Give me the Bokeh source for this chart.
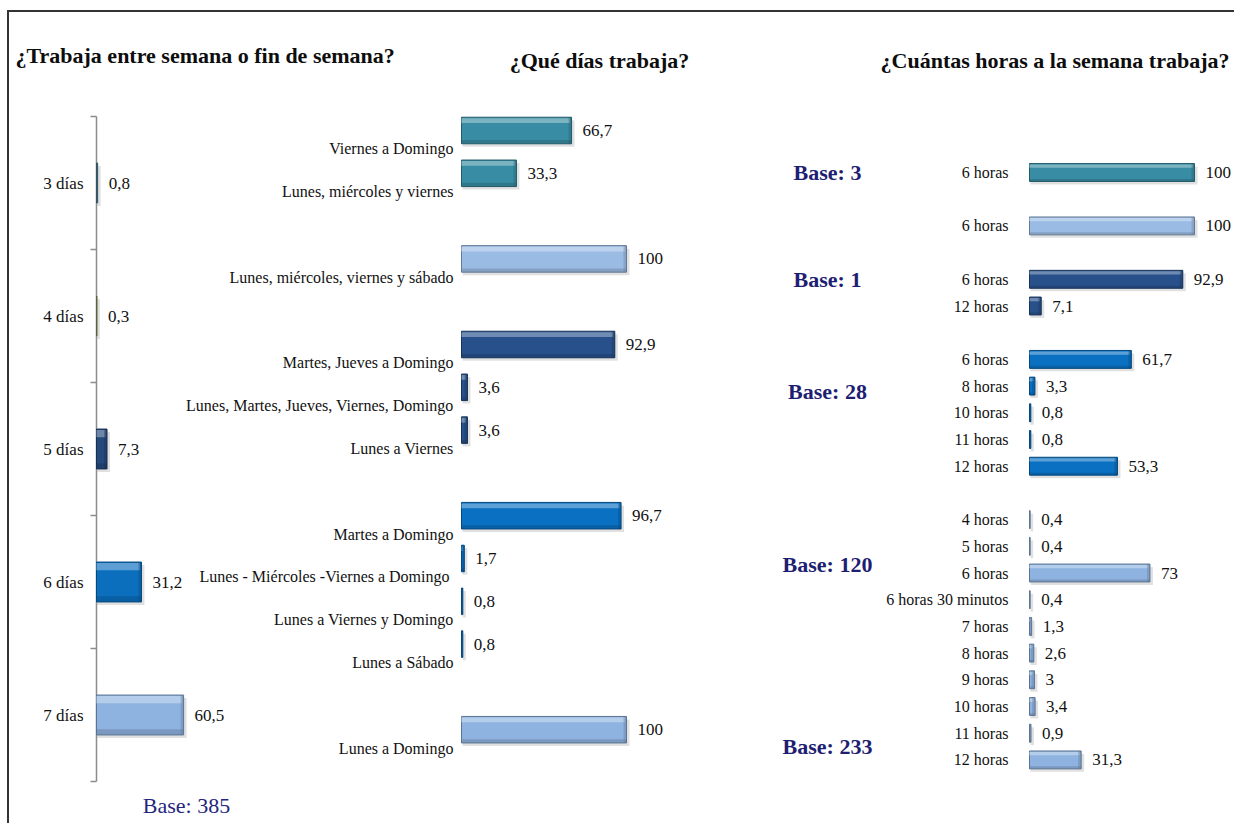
import numpy as np
from bokeh.plotting import figure
from bokeh.models import Range1d
from bokeh.core.properties import value
from bokeh.embed import file_html
from bokeh.resources import INLINE

# ---------------- data ----------------
title_left = "¿Trabaja entre semana o fin de semana?"
title_mid = "¿Qué días trabaja?"
title_right = "¿Cuántas horas a la semana trabaja?"

days_labels = ["3 días", "4 días", "5 días", "6 días", "7 días"]
days_values = [0.8, 0.3, 7.3, 31.2, 60.5]
base_total = 385

which_days_labels = [
    "Viernes a Domingo",
    "Lunes, miércoles y viernes",
    "Lunes, miércoles, viernes y sábado",
    "Martes, Jueves a Domingo",
    "Lunes, Martes, Jueves, Viernes, Domingo",
    "Lunes a Viernes",
    "Martes a Domingo",
    "Lunes - Miércoles  -Viernes a Domingo",
    "Lunes a Viernes y Domingo",
    "Lunes a Sábado",
    "Lunes a Domingo",
]
which_days_values = [66.7, 33.3, 100, 92.9, 3.6, 3.6, 96.7, 1.7, 0.8, 0.8, 100]
which_days_group = [0, 0, 1, 2, 2, 2, 3, 3, 3, 3, 4]

hours_labels = [
    "6 horas",
    "6 horas",
    "6 horas", "12 horas",
    "6 horas", "8 horas", "10 horas", "11 horas", "12 horas",
    "4 horas", "5 horas", "6 horas", "6 horas 30 minutos", "7 horas",
    "8 horas", "9 horas", "10 horas", "11 horas", "12 horas",
]
hours_values = [100, 100, 92.9, 7.1, 61.7, 3.3, 0.8, 0.8, 53.3,
                0.4, 0.4, 73, 0.4, 1.3, 2.6, 3, 3.4, 0.9, 31.3]
hours_group = [0, 1, 2, 2, 3, 3, 3, 3, 3, 4, 4, 4, 4, 4, 4, 4, 4, 4, 4]
group_bases = [3, 1, 28, 120, 233]

# ---------------- style / layout ----------------
W, H = 1234, 823
SERIF = value("Liberation Serif")
days_colors = ["#4E8596", "#86995A", "#26497C", "#0B6FBE", "#8FB3E0"]
group_colors = ["#388CA3", "#9ABBE3", "#28508A", "#0A70C1", "#8FB3E0"]
base_label_slots = [0, 4, 8.2, 14.7, 21.5]   # vertical placement of "Base" notes
mid_label_shift = 0.43                       # category text sits below its bar


def mix(c, t, a):
    c = c.lstrip("#"); t = t.lstrip("#")
    r = [int(int(c[i:i + 2], 16) * (1 - a) + int(t[i:i + 2], 16) * a) for i in (0, 2, 4)]
    return "#%02x%02x%02x" % tuple(r)


def fmt(v):
    return f"{v:g}".replace(".", ",")


def xr(px0, s):
    return Range1d(-px0 / s, (W - px0) / s)


def yr(py0, s):
    return Range1d((H - py0) / s, -py0 / s)


# pixel anchors (data zero) and pixel-per-unit scales for each panel
P1 = dict(x0=96, sx=1.44, y0=182.5, sy=133.0, h=0.30)
P2 = dict(x0=461, sx=1.65, y0=130, sy=42.8, h=0.62)
P3 = dict(x0=1029, sx=1.65, y0=172, sy=26.7, h=0.67)

p = figure(width=W, height=H, output_backend="svg", toolbar_location=None,
           x_axis_type=None, y_axis_type=None,
           x_range=Range1d(0, W), y_range=Range1d(H, 0),
           min_border=0, min_border_left=0, min_border_right=0,
           min_border_top=0, min_border_bottom=0)
p.outline_line_color = None
p.background_fill_color = "white"
p.border_fill_color = "white"
p.grid.visible = False

p.extra_x_ranges = {"p1x": xr(P1["x0"], P1["sx"]), "p2x": xr(P2["x0"], P2["sx"]),
                    "p3x": xr(P3["x0"], P3["sx"])}
p.extra_y_ranges = {"p1y": yr(P1["y0"], P1["sy"]), "p2y": yr(P2["y0"], P2["sy"]),
                    "p3y": yr(P3["y0"], P3["sy"])}


def bars(xn, yn, P, ys, vals, cols):
    ys = np.asarray(ys, float)
    vals = np.asarray(vals, float)
    h, sx, sy = P["h"], P["sx"], P["sy"]
    edges = [mix(c, "#000000", 0.35) for c in cols]
    lights = [mix(c, "#ffffff", 0.4) for c in cols]
    kw = dict(x_range_name=xn, y_range_name=yn)
    # soft shadow
    p.hbar(y=ys + 3 / sy, left=1 / sx, right=vals + 3 / sx, height=h,
           fill_color="#000000", fill_alpha=0.12, line_color=None, **kw)
    # body
    p.hbar(y=ys, left=0, right=vals, height=h, fill_color=cols,
           line_color=edges, line_width=1, **kw)
    # top highlight
    hs = h * 0.18
    p.hbar(y=ys - h / 2 + hs / 2 + 1 / sy, left=0, right=np.maximum(vals - 1.5 / sx, 0),
           height=hs, fill_color=lights, fill_alpha=0.85, line_color=None, **kw)
    # bottom shade
    hb = h * 0.14
    p.hbar(y=ys + h / 2 - hb / 2, left=0, right=vals, height=hb,
           fill_color=edges, fill_alpha=0.4, line_color=None, **kw)
    # right bevel
    p.quad(left=np.maximum(vals - 3 / sx, 0), right=vals, top=ys - h / 2, bottom=ys + h / 2,
           fill_color=edges, fill_alpha=0.35, line_color=None, **kw)


def texts(xn, yn, x, y, t, size, align, xoff, color="#111111", style="normal"):
    p.text(x=x, y=y, text=t, x_range_name=xn, y_range_name=yn,
           text_font=SERIF, text_font_size=size, text_font_style=style,
           text_align=align, text_baseline="middle", x_offset=xoff, text_color=color)


# ---------------- frame & titles ----------------
p.segment(x0=[7.5, 6.5], y0=[10.5, 10.5], x1=[7.5, W], y1=[H, 10.5],
          line_color="#333333", line_width=2)
texts("default", "default", [15], [55], [title_left], "22px", "left", 0, "#0d0d0d", "bold")
texts("default", "default", [599], [60], [title_mid], "22px", "center", 0, "#0d0d0d", "bold")
texts("default", "default", [1229], [60], [title_right], "22px", "right", 0, "#0d0d0d", "bold")

# ---------------- panel 1 ----------------
n1 = len(days_values)
y1 = np.arange(n1)
bnd = np.arange(n1 + 1) - 0.5
p.segment(x0=[0], y0=[bnd[0]], x1=[0], y1=[bnd[-1]], line_color="#8c8c8c", line_width=1.5,
          x_range_name="p1x", y_range_name="p1y")
p.ray(x=np.zeros(n1 + 1), y=bnd, length=6, length_units="screen", angle=np.pi,
      line_color="#8c8c8c", line_width=1.5, x_range_name="p1x", y_range_name="p1y")
bars("p1x", "p1y", P1, y1, days_values, days_colors)
texts("p1x", "p1y", np.zeros(n1), y1, days_labels, "17px", "right", -13)
texts("p1x", "p1y", days_values, y1, [fmt(v) for v in days_values], "17px", "left", 11)
texts("default", "default", [186], [805], [f"Base: {base_total}"], "22px", "center", 0, "#25257E")

# ---------------- panel 2 ----------------
slots2 = np.arange(len(which_days_values)) + np.asarray(which_days_group)
cols2 = [group_colors[g] for g in which_days_group]
bars("p2x", "p2y", P2, slots2, which_days_values, cols2)
texts("p2x", "p2y", np.zeros(len(slots2)), slots2 + mid_label_shift, which_days_labels,
      "16px", "right", -8)
texts("p2x", "p2y", which_days_values, slots2, [fmt(v) for v in which_days_values],
      "17px", "left", 11)

# ---------------- panel 3 ----------------
slots3 = np.arange(len(hours_values)) + np.asarray(hours_group)
cols3 = [group_colors[g] for g in hours_group]
bars("p3x", "p3y", P3, slots3, hours_values, cols3)
texts("p3x", "p3y", np.zeros(len(slots3)), slots3, hours_labels, "16px", "right", -21)
texts("p3x", "p3y", hours_values, slots3, [fmt(v) for v in hours_values],
      "17px", "left", 11)
texts("default", "p3y", [827] * len(group_bases), base_label_slots,
      [f"Base: {b}" for b in group_bases], "22px", "center", 0, "#1E1E72", "bold")

open("out.html", "w").write(file_html(p, INLINE))
